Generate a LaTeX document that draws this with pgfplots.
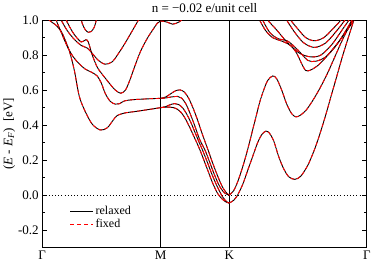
\documentclass[border=0pt]{standalone}
\usepackage{fontspec}
\setmainfont{Liberation Serif}
\usepackage{pgfplots}
\usepackage{pgfplotstable}
\pgfplotsset{compat=1.18}

% k-path distance (arbitrary units): Gamma=0, M=118.3, K=186.7, Gamma=324
\pgfplotstableread{
x y
5 1.04
7 1.0
13 0.975
19 0.935
23 0.885
27.3 0.82
32 0.715
37 0.565
43 0.477
50 0.405
58 0.372
65 0.385
71 0.43
75 0.455
83 0.47
92 0.477
105 0.488
118.3 0.50
}\bandGMa
\pgfplotstableread{
x y
12 1.05
14 1.0
19 0.93
25 0.85
31 0.79
37 0.75
43 0.72
50 0.70
55 0.68
59 0.64
63 0.58
68 0.535
73 0.52
77 0.522
82 0.538
90 0.545
105 0.55
118.3 0.553
}\bandGMb
\pgfplotstableread{
x y
22 1.04
24 1.0
29 0.945
33 0.91
39 0.875
43.5 0.888
46 0.875
50 0.80
55 0.73
60 0.69
68.3 0.63
73 0.60
78.3 0.582
83 0.60
87 0.65
91.7 0.725
98 0.82
105 0.897
111 0.95
115 0.983
118.3 0.995
125 0.988
130 0.977
135 0.985
139 1.0
143 1.03
}\bandGMc
\pgfplotstableread{
x y
17 1.03
19 1.0
25 0.94
32 0.89
39 0.855
45 0.84
50 0.81
56 0.77
63 0.748
70 0.762
75 0.80
81.7 0.859
89 0.93
96 1.0
98 1.02
}\bandGMd
\pgfplotstableread{
x y
38 1.03
40 0.98
43 0.945
46 0.93
49 0.935
52 0.96
54 1.0
55 1.03
}\bandGMe
\pgfplotstableread{
x y
118.3 0.553
123 0.56
128 0.578
133 0.596
137.7 0.601
142 0.588
146 0.555
150 0.505
155 0.43
160 0.345
166 0.25
170 0.185
175 0.11
180 0.045
184 0.012
186.7 0.0
}\bandMKa
\pgfplotstableread{
x y
118.3 0.553
123 0.555
129 0.561
135 0.564
139 0.555
143 0.525
147 0.475
152 0.40
157 0.32
163 0.25
167 0.19
172 0.115
177 0.05
182 0.012
186.7 0.0
}\bandMKb
\pgfplotstableread{
x y
118.3 0.50
123 0.505
127 0.515
132 0.523
136 0.518
140 0.50
144 0.465
148 0.42
152 0.365
156 0.31
160.5 0.25
165 0.185
170 0.11
175 0.045
180 -0.01
184 -0.037
186.7 -0.045
}\bandMKc
\pgfplotstableread{
x y
118.3 0.50
123 0.502
127 0.503
131 0.50
135 0.49
139 0.47
143 0.435
147 0.39
151 0.34
155 0.29
158 0.25
162 0.19
166 0.13
170 0.07
175 0.01
180 -0.025
184 -0.041
186.7 -0.045
}\bandMKd
\pgfplotstableread{
x y
186.7 0
191 0.025
195 0.075
200 0.16
205 0.26
209 0.35
213 0.44
217 0.53
221 0.60
225 0.655
230 0.681
234 0.665
239 0.60
244 0.52
249 0.465
253.3 0.447
258 0.458
264 0.49
271 0.55
278 0.62
285 0.70
292 0.79
299 0.88
306 0.96
310 1.0
312 1.03
}\bandKGa
\pgfplotstableread{
x y
186.7 -0.045
191 -0.03
195 0.0
200 0.06
205 0.14
210 0.22
215 0.30
219 0.345
223.3 0.366
227 0.352
231 0.31
236 0.22
241 0.15
246 0.105
252 0.09
258 0.108
265 0.17
271 0.25
276 0.33
282 0.44
288 0.56
294 0.68
300 0.80
306 0.91
311 1.0
313 1.04
}\bandKGb
\pgfplotstableread{
x y
246 1.03
248 1.0
255 0.95
263 0.90
271.7 0.882
281 0.90
290 0.95
298 1.0
300 1.03
}\bandKGc
\pgfplotstableread{
x y
242 1.03
244 1.0
252 0.93
261 0.87
271.7 0.844
283 0.87
294 0.94
302 1.0
304 1.03
}\bandKGd
\pgfplotstableread{
x y
223 1.03
225 1.0
233 0.95
245 0.87
257 0.81
268 0.79
278 0.80
289 0.86
300 0.95
306 1.0
308 1.03
}\bandKGe
\pgfplotstableread{
x y
218 1.03
220 1.0
227 0.93
235 0.895
245 0.88
255 0.83
265 0.77
273 0.765
283 0.79
294 0.86
303 0.94
309 1.0
311 1.03
}\bandKGf
\pgfplotstableread{
x y
215 1.03
217 1.0
223 0.94
230 0.90
240 0.878
248 0.855
254 0.81
259 0.75
263 0.712
268 0.715
276 0.745
285 0.80
295 0.87
304 0.94
311 1.0
313 1.03
}\bandKGg

\newcommand{\band}[1]{%
  \addplot[black, line width=0.9pt, smooth, forget plot] table {#1};
  \addplot[red, line width=0.9pt, smooth, dash pattern=on 4pt off 2.5pt, forget plot] table {#1};
}

\begin{document}
\begin{tikzpicture}
\begin{axis}[
  width=324pt, height=227pt, scale only axis,
  font=\fontsize{13}{15}\selectfont,
  xmin=0, xmax=324, ymin=-0.3, ymax=1.0,
  xtick={0,118.3,186.7,324},
  xticklabels={Γ,M,K,Γ},
  xtick pos=bottom,
  x tick style={draw=none},
  ytick={-0.2,0,0.2,0.4,0.6,0.8,1.0},
  minor ytick={-0.3,-0.1,0.1,0.3,0.5,0.7,0.9},
  ytick pos=both,
  tick align=inside,
  major tick length=5pt, minor tick length=3pt,
  yticklabel style={/pgf/number format/.cd, fixed, fixed zerofill, precision=1},
  /pgf/number format/assume math mode=true,
  axis line style={line width=1pt},
  every tick/.style={black, line width=0.8pt},
  title={n = −0.02 e/unit cell},
  title style={yshift=-2pt},
  ylabel={(\textit{E} - \textit{E}\textsubscript{\textit{F}})\ \ [eV]},
  ylabel style={yshift=-4pt},
  legend style={draw=none, fill=none, at={(0.075,0.2)}, anchor=north west,
    font=\fontsize{12}{13}\selectfont, row sep=-1pt},
  legend cell align=left,
  legend image code/.code={\draw[#1] (0cm,0cm) -- (0.8cm,0cm);},
]
\addplot[black, line width=0.6pt, dash pattern=on 0.8pt off 2.4pt, forget plot] coordinates {(0,0) (324,0)};
\addplot[black, line width=1pt, forget plot] coordinates {(118.3,-0.3) (118.3,1.0)};
\addplot[black, line width=1pt, forget plot] coordinates {(186.7,-0.3) (186.7,1.0)};
\band{\bandGMa}
\band{\bandGMb}
\band{\bandGMc}
\band{\bandGMd}
\band{\bandGMe}
\band{\bandMKa}
\band{\bandMKb}
\band{\bandMKc}
\band{\bandMKd}
\band{\bandKGa}
\band{\bandKGb}
\band{\bandKGc}
\band{\bandKGd}
\band{\bandKGe}
\band{\bandKGf}
\band{\bandKGg}
\addlegendimage{black, line width=1pt}
\addlegendentry{relaxed}
\addlegendimage{red, line width=1pt, dash pattern=on 4pt off 3pt}
\addlegendentry{fixed}
\end{axis}
\end{tikzpicture}
\end{document}
